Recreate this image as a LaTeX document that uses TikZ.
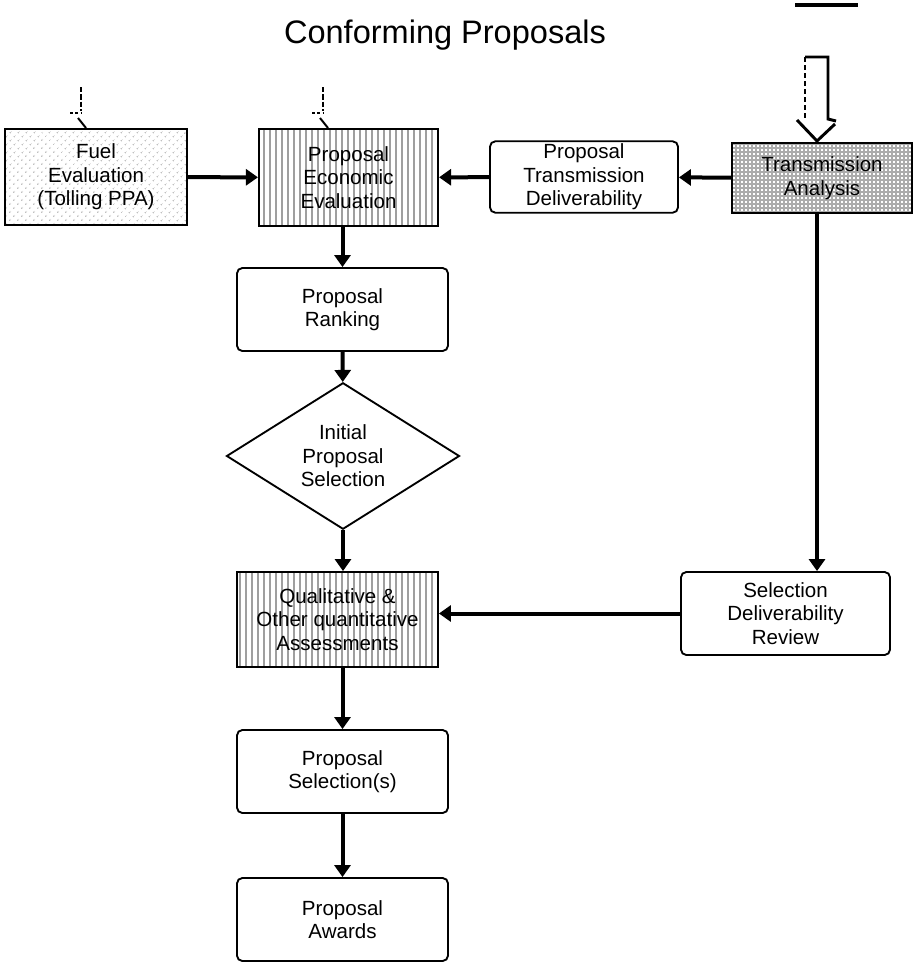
\documentclass[tikz,border=0pt]{standalone}
\usepackage{fontspec}
\setmainfont{Liberation Sans}
\usetikzlibrary{shapes.geometric,arrows.meta,patterns.meta}

\begin{document}
\begin{tikzpicture}[x=0.75pt,y=-0.75pt,
    box/.style={draw,line width=1.4pt,align=center,inner sep=2pt,
      font=\fontsize{15.4}{17.6}\selectfont},
    roundbox/.style={box,rounded corners=4pt},
    decision/.style={box,shape=diamond,inner sep=0pt},
    stripes/.style={pattern={Lines[angle=90,distance=4.5pt,line width=1.6pt]},pattern color=gray!75},
    speckle/.style={pattern={Dots[angle=45,distance=4pt,radius=0.7pt]},pattern color=gray!60},
    mesh/.style={pattern={Hatch[distance=3pt,line width=1pt]},pattern color=gray!65},
    flow/.style={line width=3pt,-{Triangle[length=9pt,width=12pt]}}]
		\useasboundingbox (0,0) rectangle (913,964);
		\node[font=\fontsize{24.4}{28}\selectfont,anchor=base] (title) at (445,43) {Conforming Proposals};
		% top row
		\node[box,speckle,minimum width=136.5pt,minimum height=72pt] (fuel) at (96,177) {Fuel\\Evaluation\\(Tolling PPA)};
		\node[box,stripes,minimum width=134.25pt,minimum height=72.75pt] (econ) at (348.5,177.5) {Proposal\\Economic\\Evaluation};
		\node[roundbox,minimum width=141pt,minimum height=52.5pt] (deliv) at (584,177) {Proposal\\Transmission\\Deliverability};
		\node[box,mesh,minimum width=135pt,minimum height=52.5pt] (trans) at (822,178) {Transmission\\Analysis};
		% main column
		\node[roundbox,minimum width=158.25pt,minimum height=62.25pt] (rank) at (342.5,309.5) {Proposal\\Ranking};
		\node[decision,minimum width=174.75pt,minimum height=93pt] (init) at (343,456) {Initial\\Proposal\\Selection};
		\node[box,stripes,minimum width=150.75pt,minimum height=71.25pt] (qual) at (337.5,619.5) {Qualitative \&\\Other quantitative\\Assessments};
		\node[roundbox,minimum width=156.75pt,minimum height=62.25pt] (review) at (785.5,613.5) {Selection\\Deliverability\\Review};
		\node[roundbox,minimum width=158.25pt,minimum height=62.25pt] (select) at (342.5,771.5) {Proposal\\Selection(s)};
		\node[roundbox,minimum width=158.25pt,minimum height=62.25pt] (award) at (342.5,919.5) {Proposal\\Awards};
		% connectors
		\draw[flow] (fuel) -- (econ);
		\draw[flow] (deliv) -- (econ);
		\draw[flow] (trans) -- (deliv);
		\draw[flow] (econ.south -| rank) -- (rank);
		\draw[flow] (rank) -- (init);
		\draw[flow] (init) -- (init.south |- qual.north);
		\draw[flow] ([xshift=-3.75pt]trans.south) -- ([xshift=-3.75pt]trans.south |- review.north);
		\draw[flow] (review.west) -- (review.west -| qual.east);
		\draw[flow] (qual.south -| select) -- (select);
		\draw[flow] (select) -- (award);
		% stray input marks
		\foreach \x in {81,323}{
			\draw[line width=1.7pt,dash pattern=on 4pt off 1.5pt] (\x,87) -- (\x,111);
			\draw[line width=1.5pt,dash pattern=on 2pt off 2pt] (\x-11,113) -- (\x,113);
			\draw[line width=1.5pt] (\x-3,118) -- (\x+5,128);
		}
		% hollow input arrow
		\draw[line width=2.5pt] (795,5) -- (858,5);
		\draw[line width=1.6pt,dash pattern=on 4pt off 2pt] (805,57) -- (805,120);
		\draw[line width=2.2pt] (805,57) -- (828,57) -- (828,119) -- (836,121);
		\draw[line width=2.2pt] (797,120) -- (817,141) -- (835,124);
	\end{tikzpicture}
\end{document}
